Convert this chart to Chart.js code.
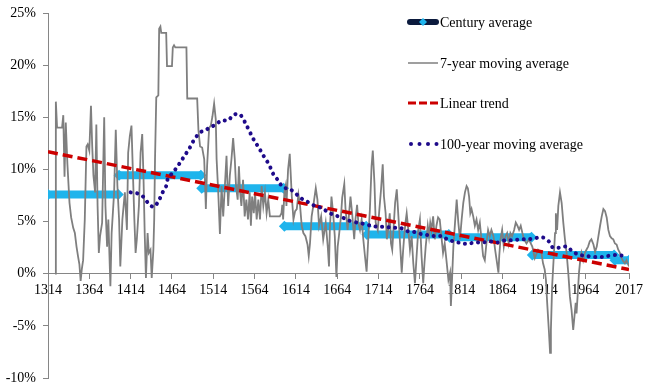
<!DOCTYPE html>
<html>
<head>
<meta charset="utf-8">
<script src="https://cdn.jsdelivr.net/npm/chart.js@4.4.1/dist/chart.umd.min.js"></script>
<style>
  html, body { margin: 0; padding: 0; background: #fff; }
  #wrap { width: 650px; height: 390px; }
</style>
</head>
<body>
<div id="wrap"><canvas id="chart" width="650" height="390"></canvas></div>
<script>
// x axis labels (years) and y axis ticks (%)
const tickYears = [1314, 1364, 1414, 1464, 1514, 1564, 1614, 1664, 1714, 1764, 1814, 1864, 1914, 1964, 2017];
const yTicks = [-10, -5, 0, 5, 10, 15, 20, 25];

// century averages
const centuryStarts = [1314, 1400, 1500, 1600, 1700, 1800, 1900, 2000];
const centuryEnds   = [1399, 1499, 1599, 1699, 1799, 1899, 1999, 2017];
const centuryValues = [7.6, 9.45, 8.2, 4.55, 3.75, 3.5, 1.8, 1.3];

// linear trend end points
const trendYears  = [1314, 2017];
const trendValues = [11.7, 0.4];

// 7-year moving average [year, %]
const sevenYearMA = [
  [1322.5, 0], [1323.5, 16.5], [1325, 14.0], [1331, 14.0], [1332.5, 15.2], [1334, 9.3], [1335.5, 14.5],
  [1337.5, 10.5], [1340, 6.8], [1342, 5.4], [1344.5, 4.4], [1346.5, 3.9], [1348.5, 2.6], [1350.5, 1.6],
  [1352, 0.9], [1353.5, -0.7], [1355, 0.5], [1356.5, 1.3], [1358.5, 5.2], [1360.5, 12.2], [1362, 12.4],
  [1364, 11.8], [1366, 16.1], [1367.5, 12.2], [1369, 9.4], [1371, 7.8], [1372.5, 14.3], [1374, 6.5],
  [1375.5, 2.0], [1377, 3.6], [1379.5, 4.9], [1382, 15.0], [1383.5, 6.5], [1385.5, 2.6], [1387, 5.2],
  [1389.5, -1.2], [1391, 3.9], [1394, 7.8], [1396, 13.8], [1398, 8.4], [1400, 5.2], [1401.5, 0.7],
  [1404, 5.2], [1405.5, 6.5], [1407, 7.8], [1409.5, 4.2], [1411, 11.6], [1413, 13.2], [1415, 14.2],
  [1417, 9.0], [1418.5, 5.2], [1420, 2.0], [1421.5, 3.3], [1424, 6.5], [1426, 11.6], [1428, 13.4],
  [1429.5, 9.4], [1431, 3.9], [1432.5, -0.4], [1434.5, 3.9], [1436, 2.0], [1438, 2.3], [1439.5, -0.4],
  [1441.5, 2.3], [1442.5, 5.2], [1443.5, 11.0], [1445, 16.9], [1447.5, 17.1], [1448.5, 23.5], [1450, 23.7],
  [1451, 23.1], [1457, 23.1], [1458, 19.9], [1464, 19.9], [1465, 21.7], [1466.5, 21.9], [1468, 21.7],
  [1481.5, 21.7], [1482.5, 16.8], [1494.5, 16.8], [1496, 13.8], [1498, 12.2], [1500.5, 12.1], [1503, 11.0],
  [1504, 8.7], [1505, 6.2], [1506.5, 10.3], [1509, 14.0], [1511, 14.2], [1513, 15.1], [1515, 16.3],
  [1517, 14.8], [1518, 11.0], [1520, 7.8], [1522, 3.8], [1524, 8.4], [1526, 5.5], [1528, 8.4],
  [1530, 11.3], [1532, 6.5], [1534, 9.4], [1536, 11.0], [1538, 13.0], [1540, 11.0], [1541.5, 8.4],
  [1543.5, 7.1], [1545, 10.3], [1546.5, 7.8], [1548, 6.5], [1550, 9.0], [1552, 5.5], [1554, 7.1],
  [1556, 5.2], [1558, 7.8], [1559.5, 4.6], [1561, 7.4], [1563, 5.8], [1564.5, 7.8], [1566.5, 5.2],
  [1568.5, 7.1], [1570.5, 5.2], [1572.5, 8.4], [1574.5, 6.5], [1576.5, 7.8], [1578.5, 5.8], [1580.5, 7.1],
  [1582.5, 5.5], [1594.5, 5.5], [1596.5, 5.8], [1597.5, 6.6], [1598.5, 5.2], [1600, 7.8], [1601.5, 8.4],
  [1602.5, 6.5], [1604.5, 10.0], [1606.5, 11.5], [1609, 7.4], [1611, 5.2], [1613, 6.0], [1615, 6.2],
  [1617, 7.6], [1619, 6.5], [1621, 4.6], [1623, 3.9], [1625.5, 3.6], [1628, 2.8], [1629.5, 1.7],
  [1631, 2.9], [1633, 5.5], [1635, 6.5], [1638, 8.2], [1640, 7.1], [1642, 4.6], [1644.5, 5.5],
  [1647, 3.3], [1650, 4.9], [1652.5, 2.6], [1654, 0.7], [1655, 4.2], [1657, 7.4], [1659, 5.8],
  [1661, 3.6], [1663, -0.3], [1664.5, 2.6], [1666, 3.6], [1668.5, 5.5], [1670, 7.3], [1672.5, 8.6],
  [1674, 6.2], [1676.5, 4.2], [1678, 5.5], [1680, 7.4], [1682, 5.8], [1684.5, 3.3], [1686, 5.2],
  [1688, 6.6], [1689.5, 4.9], [1691.5, 4.2], [1693.5, 5.2], [1695.5, 3.3], [1697.5, 1.7], [1699.5, 0.2],
  [1701.5, 3.3], [1703.5, 6.2], [1705.5, 10.3], [1707, 11.8], [1709, 8.7], [1710.5, 4.9], [1713, 4.2],
  [1715, 6.2], [1717, 8.1], [1719, 10.5], [1720.5, 7.4], [1722.5, 5.8], [1724, 3.3], [1725.5, 4.2],
  [1727.5, 5.8], [1729, 2.9], [1730.5, 2.3], [1732, 4.2], [1734, 6.8], [1736, 8.1], [1738, 5.5],
  [1740, 2.9], [1742, 0.1], [1743.5, 2.0], [1745, 3.6], [1746.5, 4.9], [1748, 5.8], [1750, 4.2],
  [1752, 2.3], [1754, 3.6], [1756, 1.0], [1758, -0.9], [1760, 1.7], [1762, 4.2], [1764, 5.2],
  [1766, 1.7], [1768, -0.9], [1769.5, 1.0], [1771, 2.6], [1773.5, 4.6], [1775, 3.6], [1776.5, 4.9],
  [1778, 4.2], [1780, 5.5], [1782, 3.3], [1784, 4.6], [1786, 5.4], [1788, 5.2], [1790, 3.6],
  [1792, 2.0], [1794, 2.9], [1796.5, 1.0], [1798.5, -0.6], [1800.5, 0.1], [1801.5, -3.1], [1803, -0.3],
  [1804.5, 2.6], [1806.5, 4.9], [1808.5, 7.1], [1810.5, 4.9], [1812.5, 3.3], [1814.5, 5.2], [1816.5, 6.8],
  [1818.5, 7.8], [1820.5, 8.4], [1822, 8.2], [1823.5, 7.4], [1825, 5.8], [1826.5, 6.2], [1828.5, 5.5],
  [1830.5, 4.6], [1832.5, 5.2], [1834.5, 4.2], [1836.5, 4.9], [1838.5, 3.3], [1840.5, 1.7], [1842.5, 1.3],
  [1844.5, 2.9], [1846.5, 4.2], [1848.5, 3.6], [1850.5, 4.2], [1853, 3.6], [1855, 2.3], [1857, 1.2],
  [1859, 0.1], [1860, 1.7], [1861.5, 3.3], [1863.5, 4.2], [1865.5, 2.6], [1867.5, 3.6], [1869.5, 3.9],
  [1871.5, 2.9], [1873.5, 3.9], [1875.5, 3.6], [1878, 4.2], [1880, 4.9], [1882, 4.6], [1884, 4.2],
  [1886, 4.6], [1888, 3.9], [1890, 3.3], [1893, 2.9], [1896, 3.3], [1897, 3.1], [1900, 2.6],
  [1903, 1.5], [1907, 2.3], [1911, 2.0], [1913, 1.0], [1915, 0.4], [1916.5, -0.6], [1918, -2.8],
  [1920, -5.4], [1921.5, -7.6], [1922.5, -5.4], [1924, -1.2], [1926, 1.7], [1927.5, 3.9], [1928.5, 5.8],
  [1930, 4.2], [1931.5, 6.5], [1933.5, 7.8], [1935.5, 6.8], [1937.5, 4.9], [1939.5, 3.3], [1941.5, 2.0],
  [1943.5, 0.1], [1945.5, -2.2], [1947.5, -3.5], [1949.5, -5.4], [1951, -4.1], [1952.5, -2.8], [1953.5, -3.8],
  [1955, -1.9], [1956.5, 0.1], [1958, 1.3], [1959.5, 2.0], [1961.5, 1.3], [1963.5, 2.0], [1965.5, 2.3],
  [1967.5, 2.6], [1969.5, 3.1], [1971.5, 3.3], [1974, 2.8], [1976, 2.1], [1978, 2.6], [1980, 3.6],
  [1982, 4.6], [1984, 5.5], [1986, 6.2], [1988, 6.0], [1990, 5.4], [1992, 4.2], [1994, 3.6],
  [1996, 3.4], [1998, 3.3], [2000, 2.9], [2002, 2.8], [2004, 2.3], [2006, 2.0], [2008, 1.5],
  [2010, 1.2], [2012, 1.0], [2014, 1.3], [2017, 0.7]
];

// 100-year moving average [year, %]
const hundredYearMA = [
  [1414, 7.8], [1422, 7.7], [1429, 7.4], [1436, 6.7], [1442, 6.4], [1448, 7.0], [1452, 7.7],
  [1457, 8.4], [1459, 9.1], [1465, 9.7], [1470, 10.2], [1475, 10.8], [1480, 11.4], [1485, 12.0],
  [1489, 12.6], [1494, 13.2], [1499, 13.6], [1504, 13.7], [1509, 14.0], [1517, 14.3], [1524, 14.7],
  [1532, 14.7], [1538, 15.2], [1546, 15.3], [1555, 14.1], [1560, 13.3], [1564, 12.7], [1569, 12.1],
  [1574, 11.4], [1579, 10.8], [1583, 10.2], [1587, 9.5], [1593, 8.9], [1598, 8.3], [1607, 8.1],
  [1615, 7.6], [1621, 7.2], [1628, 6.9], [1637, 6.5], [1645, 6.3], [1653, 5.9], [1661, 5.6],
  [1670, 5.4], [1678, 5.1], [1688, 4.9], [1695, 4.8], [1705, 4.6], [1713, 4.5], [1722, 4.5],
  [1731, 4.4], [1740, 4.4], [1748, 4.1], [1757, 4.0], [1766, 3.8], [1774, 3.7], [1782, 3.6],
  [1791, 3.6], [1799, 3.2], [1806, 3.1], [1815, 2.9], [1823, 2.9], [1832, 3.0], [1840, 3.0],
  [1849, 3.1], [1858, 3.0], [1867, 3.2], [1877, 3.2], [1885, 3.3], [1895, 3.3], [1903, 3.4],
  [1912, 3.5], [1920, 3.1], [1925, 2.5], [1933, 2.5], [1942, 2.6], [1949, 2.1], [1958, 1.8],
  [1966, 1.7], [1976, 1.6], [1984, 1.6], [1991, 1.7], [2002, 1.8], [2012, 1.7]
];

const BLUE = '#1fb4ec';
const GREY = '#7f7f7f';
const RED = '#cc0000';
const NAVY = '#1e0a8a';
const AXIS = '#868686';

// century segments, separated by null gaps
const centuryData = [];
centuryStarts.forEach((start, i) => {
    centuryData.push({ x: start, y: centuryValues[i] });
    centuryData.push({ x: centuryEnds[i], y: centuryValues[i] });
    centuryData.push({ x: centuryEnds[i] + 0.5, y: null });
});
// markers only at segment ends
const centuryRadius = centuryData.map(p => p.y === null ? 0 : 5.5);

const legendItems = [
    { text: 'Century average', y: 22, kind: 'century' },
    { text: '7-year moving average', y: 63, kind: 'grey' },
    { text: 'Linear trend', y: 103, kind: 'trend' },
    { text: '100-year moving average', y: 144, kind: 'dots' }
];

// legend drawn inside the plot on the right
const legendPlugin = {
    id: 'sideLegend',
    afterDraw(chart) {
        const ctx = chart.ctx;
        const x0 = 408, x1 = 438;
        ctx.save();
        ctx.font = "14px 'Liberation Serif', serif";
        ctx.textBaseline = 'middle';
        ctx.fillStyle = '#000';
        legendItems.forEach(item => {
            ctx.save();
            if (item.kind === 'century') {
                ctx.strokeStyle = '#0b1a3d';
                ctx.lineWidth = 6;
                ctx.lineCap = 'round';
                ctx.beginPath(); ctx.moveTo(x0 + 2, item.y); ctx.lineTo(x1 - 2, item.y); ctx.stroke();
                ctx.fillStyle = BLUE;
                ctx.beginPath();
                ctx.moveTo(423, item.y - 4); ctx.lineTo(427, item.y); ctx.lineTo(423, item.y + 4); ctx.lineTo(419, item.y);
                ctx.closePath(); ctx.fill();
            } else if (item.kind === 'grey') {
                ctx.strokeStyle = GREY; ctx.lineWidth = 1.5;
                ctx.beginPath(); ctx.moveTo(x0, item.y); ctx.lineTo(x1, item.y); ctx.stroke();
            } else if (item.kind === 'trend') {
                ctx.strokeStyle = RED; ctx.lineWidth = 3;
                ctx.setLineDash([8, 3]);
                ctx.beginPath(); ctx.moveTo(x0, item.y); ctx.lineTo(x1, item.y); ctx.stroke();
            } else {
                ctx.fillStyle = NAVY;
                for (let i = 0; i < 4; i++) {
                    ctx.beginPath(); ctx.arc(411 + i * 8.5, item.y, 2, 0, Math.PI * 2); ctx.fill();
                }
            }
            ctx.restore();
            ctx.fillText(item.text, 440, item.y + 1);
        });
        ctx.restore();
    }
};

Chart.defaults.font.family = "'Liberation Serif', 'Times New Roman', serif";
Chart.defaults.font.size = 14;
Chart.defaults.color = '#000';

new Chart(document.getElementById('chart'), {
    type: 'line',
    data: {
        datasets: [
            {
                label: 'Century average',
                data: centuryData,
                borderColor: BLUE,
                backgroundColor: BLUE,
                borderWidth: 8,
                pointStyle: 'rectRot',
                pointRadius: centuryRadius,
                pointBorderWidth: 0,
                pointBackgroundColor: BLUE,
                spanGaps: false,
                order: 4
            },
            {
                label: '7-year moving average',
                data: sevenYearMA.map(p => ({ x: p[0], y: p[1] })),
                borderColor: GREY,
                borderWidth: 1.8,
                pointRadius: 0,
                tension: 0,
                order: 3
            },
            {
                label: 'Linear trend',
                data: trendYears.map((yr, i) => ({ x: yr, y: trendValues[i] })),
                borderColor: RED,
                borderWidth: 3.5,
                borderDash: [10, 5],
                pointRadius: 0,
                order: 2
            },
            {
                label: '100-year moving average',
                data: hundredYearMA.map(p => ({ x: p[0], y: p[1] })),
                borderColor: NAVY,
                borderWidth: 4,
                borderDash: [0.1, 6.5],
                borderCapStyle: 'round',
                pointRadius: 0,
                tension: 0.3,
                order: 1
            }
        ]
    },
    options: {
        responsive: false,
        animation: false,
        events: [],
        layout: { padding: { left: 0, right: 21, top: 13, bottom: 12 } },
        plugins: {
            legend: { display: false },
            tooltip: { enabled: false }
        },
        scales: {
            x: {
                type: 'linear',
                position: { y: 0 },
                min: 1314,
                max: 2017,
                afterBuildTicks: scale => { scale.ticks = tickYears.map(v => ({ value: v })); },
                afterFit: scale => { scale.height = 0; },
                ticks: {
                    autoSkip: false,
                    maxRotation: 0,
                    padding: 3,
                    callback: v => String(v)
                },
                grid: { drawOnChartArea: false, tickLength: 5, color: AXIS },
                border: { color: AXIS, width: 1 }
            },
            y: {
                min: -10,
                max: 25,
                afterBuildTicks: scale => { scale.ticks = yTicks.map(v => ({ value: v })); },
                afterFit: scale => {
                    scale.width = 48;
                    scale.paddingTop = 0;
                    scale.paddingBottom = 0;
                },
                ticks: {
                    padding: 7,
                    callback: v => v + '%'
                },
                grid: { drawOnChartArea: false, tickLength: 5, color: AXIS },
                border: { color: AXIS, width: 1 }
            }
        }
    },
    plugins: [legendPlugin]
});
</script>
</body>
</html>
